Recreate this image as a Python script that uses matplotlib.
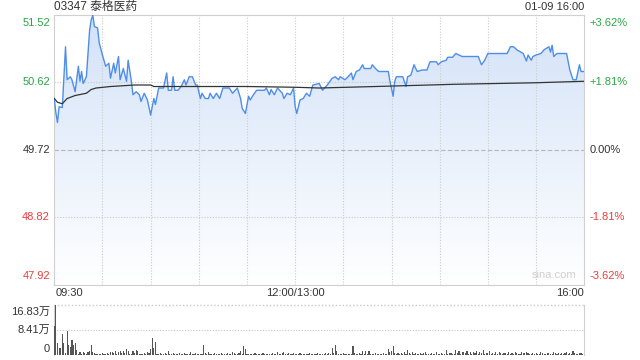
import numpy as np
import matplotlib
matplotlib.use('Agg')
import matplotlib.pyplot as plt
from matplotlib.colors import LinearSegmentedColormap

# minutes since 09:30 (lunch break collapsed, 12:00 and 13:00 share minute 150)
price_min = [0, 1, 2, 3, 5, 7, 8, 10, 11, 13, 15, 16, 17, 18, 20, 22, 23, 24, 25, 27,
             28, 30, 32, 34, 35, 37, 38, 40, 41, 43, 45, 46, 48, 49, 51, 53, 54, 56, 58, 60,
             62, 63, 65, 68, 70, 71, 73, 74, 75, 77, 79, 81, 82, 84, 86, 88, 89, 91, 92, 94,
             96, 97, 99, 101, 103, 105, 109, 111, 114, 116, 117, 119, 121, 122, 124, 126, 131, 132, 134, 135,
             137, 139, 142, 143, 145, 147, 149, 150, 151, 153, 155, 157, 159, 161, 165, 167, 170, 173, 175, 177,
             178, 181, 183, 185, 186, 188, 190, 192, 193, 197, 198, 200, 202, 208, 209, 211, 212, 213, 217, 219,
             220, 222, 224, 226, 229, 232, 234, 238, 239, 241, 244, 245, 248, 250, 254, 264, 266, 268, 270, 273,
             282, 284, 286, 288, 292, 294, 295, 297, 298, 300, 303, 305, 308, 309, 310, 311, 313, 319, 320, 321,
             323, 325, 327, 328, 330]
price = [50.40, 50.21, 50.08, 50.29, 50.28, 51.09, 50.65, 50.69, 50.65, 50.49, 50.83, 50.63, 50.76, 50.60, 50.69, 51.31, 51.45, 51.51, 51.36, 51.34,
         51.14, 50.98, 50.83, 50.87, 50.67, 50.87, 50.74, 50.96, 50.65, 50.80, 50.63, 50.91, 50.63, 50.45, 50.49, 50.45, 50.36, 50.47, 50.38, 50.18,
         50.40, 50.32, 50.54, 50.54, 50.74, 50.51, 50.51, 50.69, 50.51, 50.51, 50.56, 50.65, 50.58, 50.69, 50.69, 50.58, 50.58, 50.40, 50.47, 50.40,
         50.40, 50.47, 50.40, 50.47, 50.40, 50.54, 50.54, 50.47, 50.54, 50.40, 50.27, 50.20, 50.43, 50.38, 50.45, 50.51, 50.51, 50.54, 50.45, 50.52,
         50.45, 50.54, 50.47, 50.40, 50.47, 50.45, 50.54, 50.29, 50.20, 50.38, 50.40, 50.47, 50.43, 50.58, 50.60, 50.51, 50.58, 50.67, 50.69, 50.65,
         50.69, 50.65, 50.69, 50.74, 50.65, 50.76, 50.78, 50.85, 50.80, 50.80, 50.85, 50.80, 50.76, 50.76, 50.63, 50.43, 50.63, 50.69, 50.69, 50.56,
         50.69, 50.71, 50.85, 50.76, 50.78, 50.78, 50.89, 50.89, 50.85, 50.89, 50.91, 50.95, 50.95, 51.00, 50.96, 50.96, 50.85, 50.91, 51.00, 51.00,
         51.00, 51.09, 51.09, 51.05, 51.00, 50.90, 50.98, 50.91, 50.96, 50.98, 51.00, 51.05, 51.09, 51.02, 51.11, 50.96, 51.00, 51.00, 50.89, 50.78,
         50.65, 50.65, 50.85, 50.76, 50.76]

avg_min = [0, 2, 5, 8, 13, 20, 23, 26, 35, 50, 60, 62, 120, 150, 165, 200, 250, 300, 330]
avg_price = [50.40, 50.35, 50.33, 50.40, 50.44, 50.47, 50.52, 50.54, 50.56, 50.58, 50.58, 50.56,
             50.56, 50.55, 50.54, 50.56, 50.59, 50.61, 50.63]

# volume per minute, in 万
volume = [9.6, 16.83, 3.9, 2.5, 2.5, 7.0, 3.9, 0.6, 8.1, 3.4, 2.8, 5.0, 3.4, 3.9, 1.7,
          0.4, 0.9, 0.5, 1.1, 0.6, 0.5, 1.0, 1.3, 3.4, 1.0, 0.6, 0.4, 0.3, 0.5, 0.4,
          0.6, 0.3, 0.5, 0.8, 0.4, 0.9, 1.1, 0.6, 1.2, 0.5, 1.0, 1.4, 0.7, 1.5, 0.8,
          1.9, 1.3, 0.4, 0.3, 1.2, 0.6, 1.8, 1.5, 0.4, 0.3, 0.5, 0.8, 0.3, 1.0, 0.6,
          2.1, 5.7, 2.2, 4.5, 0.5, 0.3, 0.6, 0.4, 0.3, 0.8, 0.5, 1.3, 0.4, 0.3, 0.6,
          0.3, 0.4, 0.5, 0.8, 0.3, 0.4, 0.6, 0.3, 0.5, 0.3, 1.1, 0.4, 0.3, 0.6, 0.4,
          0.5, 0.3, 0.4, 3.4, 0.6, 0.3, 0.9, 0.4, 0.5, 0.3, 0.8, 0.4, 0.3, 0.5, 0.6,
          0.4, 0.3, 0.5, 0.7, 0.3, 0.4, 0.9, 0.6, 0.3, 0.4, 0.8, 1.4, 0.5, 2.9, 1.9,
          0.4, 0.3, 0.5, 0.4, 0.3, 0.6, 0.4, 0.3, 0.5, 0.3, 0.6, 0.4, 0.3, 0.5, 0.4,
          0.3, 0.6, 0.4, 0.5, 0.9, 0.3, 0.4, 0.6, 1.1, 0.4, 0.3, 0.8, 0.5, 0.3, 0.6,
          0.5, 0.4, 0.3, 0.6, 0.4, 0.3, 0.5, 0.4, 0.3, 0.6, 0.4, 0.3, 0.5, 0.4, 0.6,
          0.3, 0.5, 0.4, 0.3, 0.6, 0.4, 0.8, 0.5, 2.2, 0.6, 3.3, 1.3, 0.5, 0.4, 0.3,
          0.6, 0.4, 0.3, 0.5, 0.4, 0.3, 2.9, 0.6, 0.4, 0.3, 0.8, 0.4, 1.3, 0.5, 1.3,
          0.4, 1.3, 0.3, 0.5, 0.4, 0.6, 0.3, 0.4, 0.5, 0.3, 0.6, 0.4, 0.5, 2.0, 0.9,
          1.4, 2.9, 0.6, 0.5, 0.8, 0.4, 0.6, 0.5, 0.9, 0.4, 1.7, 0.8, 0.5, 1.0, 0.4,
          0.6, 0.3, 0.5, 0.8, 0.4, 0.6, 1.1, 0.3, 0.5, 0.4, 0.6, 0.3, 0.5, 1.0, 0.4,
          0.3, 0.6, 0.5, 0.4, 1.7, 0.3, 0.6, 0.8, 0.5, 0.4, 1.7, 0.6, 1.2, 0.5, 0.9,
          1.1, 0.6, 1.3, 0.4, 1.1, 0.5, 0.9, 0.7, 1.3, 0.4, 1.0, 0.6, 1.8, 0.5, 0.8,
          0.6, 1.2, 0.4, 0.6, 0.5, 0.9, 0.4, 1.1, 0.6, 0.5, 0.8, 0.6, 0.4, 1.0, 0.5,
          0.7, 0.4, 0.9, 0.6, 0.5, 0.4, 1.1, 0.6, 0.8, 1.0, 0.6, 0.5, 0.4, 0.8, 0.5,
          0.7, 0.4, 0.5, 0.9, 0.6, 0.4, 0.5, 0.8, 0.6, 0.4, 0.5, 1.1, 0.6, 0.4, 0.7,
          0.5, 0.8, 0.4, 0.6, 1.0, 0.5, 0.8, 0.4, 1.2, 0.6, 0.5, 0.4, 0.8, 0.6, 0.5,
          0.4]

prev_close = 49.72
price_ticks = [47.92, 48.82, 49.72, 50.62, 51.52]
pct_labels = ['-3.62%', '-1.81%', '0.00%', '+1.81%', '+3.62%']
tick_colors = ['#f03c3c', '#f03c3c', '#333333', '#28a745', '#28a745']
vol_ticks = [0, 8.41, 16.83]
vol_labels = ['0', '8.41万', '16.83万']
time_labels = ['09:30', '12:00/13:00', '16:00']
title = '03347 泰格医药'
stamp = '01-09 16:00'

FONT = ['Liberation Sans', 'Noto Sans CJK SC', 'DejaVu Sans']
plt.rcParams['font.family'] = FONT

fig = plt.figure(figsize=(6.4, 3.6), dpi=100)
ax = fig.add_axes([0.0848, 0.2097, 0.8281, 0.75])
axv = fig.add_axes([0.0848, 0.0139, 0.8281, 0.1397])

ymin, ymax = price_ticks[0], price_ticks[-1]
ax.set_xlim(0, 330)
ax.set_ylim(ymin, ymax)

# gradient fill under the price line
cmap = LinearSegmentedColormap.from_list('g', ['#ffffff', '#d3e2f8'])
grad = np.linspace(0, 1, 256).reshape(-1, 1)
im = ax.imshow(grad, extent=[0, 330, ymin, ymax], origin='lower', aspect='auto',
               cmap=cmap, zorder=1)
poly = ax.fill_between(price_min, price, ymin, facecolor='none', edgecolor='none')
im.set_clip_path(poly.get_paths()[0], transform=ax.transData)

# grid
for m in range(30, 330, 30):
    ax.axvline(m, color='#cccccc', lw=0.8, ls=(0, (1, 1.5)), zorder=2)
for p in [48.82, 50.62]:
    ax.axhline(p, color='#c8c8c8', lw=0.8, ls=(0, (1, 1.5)), zorder=2)
ax.axhline(prev_close, color='#b8b8b8', lw=0.8, ls=(0, (4, 2)), zorder=2)

ax.plot(price_min, price, color='#4f8ee8', lw=1.0, zorder=4)
ax.plot(avg_min, avg_price, color='#333333', lw=0.9, zorder=5)

for s in ax.spines.values():
    s.set_color('#d0d0d0')
ax.set_xticks([])
ax.set_yticks([])

# price labels left / percent labels right
for p, lab, c in zip(price_ticks, pct_labels, tick_colors):
    off = 0
    if p == ymax:
        off = -6
    elif p == ymin:
        off = 6
    ax.annotate(f'{p:.2f}', (0, p), xycoords=('axes fraction', 'data'),
                xytext=(-3, off), textcoords='offset points', ha='right', va='center',
                color=c, fontsize=8)
    ax.annotate(lab, (1, p), xycoords=('axes fraction', 'data'),
                xytext=(4, off), textcoords='offset points', ha='left', va='center',
                color=c, fontsize=8)

ax.text(0.002, -0.032, time_labels[0], transform=ax.transAxes, ha='left', va='center',
        fontsize=8, color='#333333')
ax.text(150 / 330, -0.032, time_labels[1], transform=ax.transAxes, ha='center', va='center',
        fontsize=8, color='#333333')
ax.text(1.0, -0.032, time_labels[2], transform=ax.transAxes, ha='right', va='center',
        fontsize=8, color='#333333')
ax.text(0.0, 1.027, title, transform=ax.transAxes, ha='left', va='center',
        fontsize=8.5, color='#333333')
ax.text(1.0, 1.027, stamp, transform=ax.transAxes, ha='right', va='center',
        fontsize=8, color='#333333')
ax.text(0.985, 0.015, 'sina.com', transform=ax.transAxes, ha='right', va='bottom',
        fontsize=8, color='#cfcfcf')

# volume panel
axv.bar(np.arange(len(volume)), volume, width=0.7, color='#555555', zorder=3)
axv.set_xlim(0, 330)
axv.set_ylim(0, vol_ticks[-1])
axv.axhline(vol_ticks[1], color='#c8c8c8', lw=0.8, ls=(0, (1, 1.5)))
axv.axhline(vol_ticks[2], color='#c8c8c8', lw=1.0, ls=(0, (1, 1.5)), clip_on=False)
for k in ['top', 'bottom']:
    axv.spines[k].set_visible(False)
for k in ['left', 'right']:
    axv.spines[k].set_color('#d0d0d0')
axv.set_xticks([])
axv.set_yticks([])
for v, lab in zip(vol_ticks, vol_labels):
    off = 0
    if v == vol_ticks[-1]:
        off = -5
    elif v == 0:
        off = 4
    axv.annotate(lab, (0, v), xycoords=('axes fraction', 'data'),
                 xytext=(-3, off), textcoords='offset points', ha='right', va='center',
                 color='#333333', fontsize=8)

fig.savefig('out.png', dpi=100)
